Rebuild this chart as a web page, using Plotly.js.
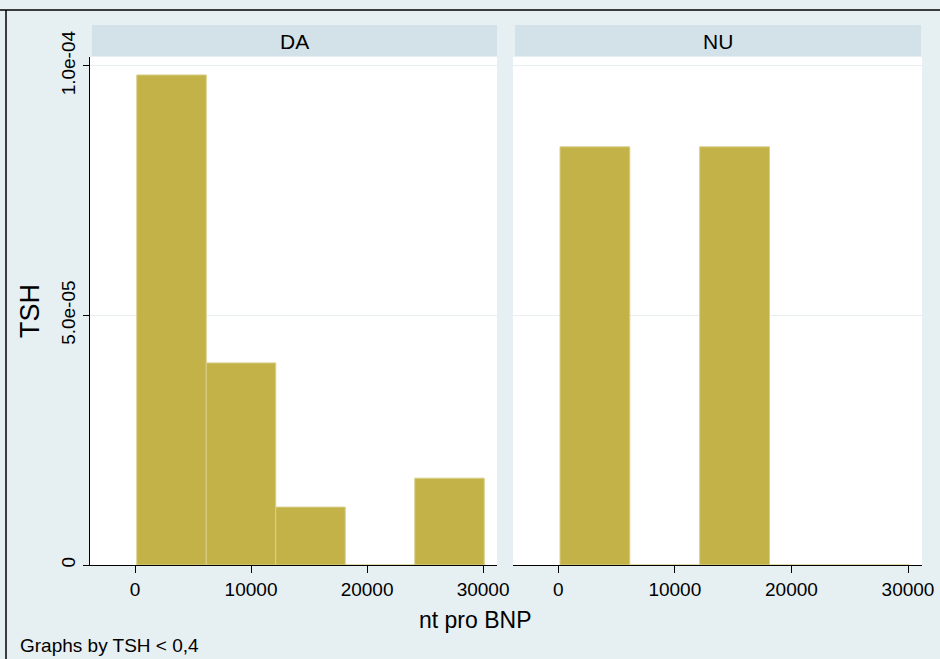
<!DOCTYPE html>
<html>
<head>
<meta charset="utf-8">
<script src="https://cdn.plot.ly/plotly-3.0.1.min.js"></script>
<style>html,body{margin:0;padding:0;background:#e6eff2;}#chart{width:940px;height:659px;}</style>
</head>
<body>
<div id="chart"></div>
<script>
// Histogram bin edges (nt pro BNP)
const binEdges = [150, 6140, 12130, 18120, 24110, 30100];
// Densities per panel
const panels = ["DA", "NU"];
const densDA = [0.982e-4, 0.405e-4, 0.116e-4, 0, 0.174e-4];
const densNU = [0.838e-4, 0, 0.838e-4, 0, 0];
const xTickVals = [0, 10000, 20000, 30000];
const xTickText = ["0", "10000", "20000", "30000"];
const yTickVals = [0, 5e-5, 1e-4];
const yTickText = ["0", "5.0e-05", "1.0e-04"];

const centers = binEdges.slice(0, -1).map((e, i) => (e + binEdges[i + 1]) / 2);
const widths = binEdges.slice(0, -1).map((e, i) => binEdges[i + 1] - e);

const barColor = '#c2b247';
const font = 'Liberation Sans, Arial, sans-serif';

function barTrace(vals, xa, ya) {
  return {
    type: 'bar', x: centers, y: vals, width: widths,
    xaxis: xa, yaxis: ya,
    marker: {color: barColor, line: {color: '#d9cf8c', width: 1}},
    hoverinfo: 'x+y', showlegend: false
  };
}

const data = [barTrace(densDA, 'x', 'y'), barTrace(densNU, 'x2', 'y2')];

const W = 940, H = 659;
const px = v => v / W, py = v => 1 - v / H;

const xRange = [-3880, 31200];
const yRange = [0, 1.018e-4];

const xaxisBase = {
  range: xRange, tickvals: xTickVals, ticktext: xTickText,
  ticks: 'outside', ticklen: 7, tickcolor: '#000', tickwidth: 1,
  showline: true, linecolor: '#000', linewidth: 1,
  showgrid: false, zeroline: false,
  tickfont: {family: font, size: 19, color: '#000'}, fixedrange: true
};
const yaxisBase = {
  range: yRange, tickvals: yTickVals, ticktext: yTickText,
  showgrid: true, gridcolor: '#e9eef0', gridwidth: 1, zeroline: false,
  domain: [py(565), py(57)], fixedrange: true
};

const layout = {
  width: W, height: H,
  margin: {l: 0, r: 0, t: 0, b: 0},
  paper_bgcolor: '#e6eff2', plot_bgcolor: '#ffffff',
  bargap: 0,
  xaxis: Object.assign({}, xaxisBase, {domain: [px(90), px(497)], anchor: 'y'}),
  xaxis2: Object.assign({}, xaxisBase, {domain: [px(513), px(922)], anchor: 'y2'}),
  yaxis: Object.assign({}, yaxisBase, {
    anchor: 'x', showline: true, linecolor: '#000', linewidth: 1,
    ticks: 'outside', ticklen: 6, tickcolor: '#000', tickangle: -90,
    tickfont: {family: font, size: 19, color: '#000'},
    title: {text: 'TSH', font: {family: font, size: 27, color: '#000'}, standoff: 10}
  }),
  yaxis2: Object.assign({}, yaxisBase, {anchor: 'x2', matches: 'y', showticklabels: false, ticks: '', showline: false}),
  shapes: [
    {type: 'rect', xref: 'paper', yref: 'paper', x0: px(92), x1: px(497), y0: py(56), y1: py(25), fillcolor: '#d3e2e8', line: {width: 0}, layer: 'below'},
    {type: 'rect', xref: 'paper', yref: 'paper', x0: px(515), x1: px(921), y0: py(56), y1: py(25), fillcolor: '#d3e2e8', line: {width: 0}, layer: 'below'},
    {type: 'line', xref: 'paper', yref: 'paper', x0: 0, x1: 1, y0: py(10), y1: py(10), line: {color: '#000', width: 1.5}},
    {type: 'line', xref: 'paper', yref: 'paper', x0: px(6), x1: px(6), y0: 0, y1: py(10), line: {color: '#000', width: 1.5}}
  ],
  annotations: [
    {text: panels[0], xref: 'paper', yref: 'paper', x: px(294), y: py(41), xanchor: 'center', yanchor: 'middle', showarrow: false, font: {family: font, size: 21, color: '#000'}},
    {text: panels[1], xref: 'paper', yref: 'paper', x: px(718), y: py(41), xanchor: 'center', yanchor: 'middle', showarrow: false, font: {family: font, size: 21, color: '#000'}},
    {text: 'nt pro BNP', xref: 'paper', yref: 'paper', x: px(475), y: py(620), xanchor: 'center', yanchor: 'middle', showarrow: false, font: {family: font, size: 23, color: '#000'}},
    {text: 'Graphs by TSH < 0,4', xref: 'paper', yref: 'paper', x: px(18), y: py(645), xanchor: 'left', yanchor: 'middle', showarrow: false, font: {family: font, size: 19, color: '#000'}}
  ]
};

Plotly.newPlot('chart', data, layout, {displayModeBar: false, staticPlot: true});
</script>
</body>
</html>
